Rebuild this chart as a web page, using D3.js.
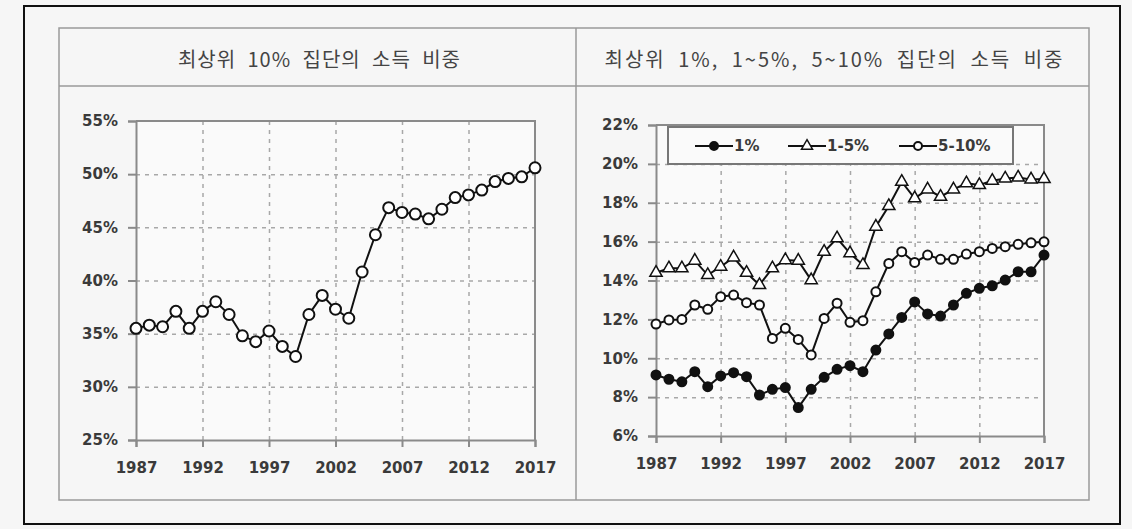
<!DOCTYPE html>
<html>
<head>
<meta charset="utf-8">
<script src="https://cdn.jsdelivr.net/npm/d3@7"></script>
<style>
  body { margin: 0; background: #f6f6f6; }
  .tick text { font-family: "DejaVu Sans", Tahoma, sans-serif; font-weight: bold; fill: #3a3a3a; }
</style>
</head>
<body>
<script>
// years shared by all series
let years = d3.range(1987, 2018);
let xTickYears = [1987, 1992, 1997, 2002, 2007, 2012, 2017];

// left panel: top 10% share (%)
let top10 = [35.5, 35.8, 35.65, 37.1, 35.5, 37.1, 38.0, 36.8, 34.8, 34.25,
    35.25, 33.8, 32.85, 36.8, 38.6, 37.3, 36.45, 40.8, 44.3, 46.85,
    46.4, 46.25, 45.8, 46.7, 47.8, 48.05, 48.5, 49.3, 49.6, 49.75, 50.6];
let leftYTicks = [25, 30, 35, 40, 45, 50, 55];

// right panel: top 1%, 1-5%, 5-10% shares (%)
let top1 = [9.14, 8.92, 8.79, 9.31, 8.54, 9.09, 9.26, 9.05, 8.11, 8.4,
    8.49, 7.46, 8.4, 9.02, 9.43, 9.62, 9.31, 10.42, 11.25, 12.1,
    12.9, 12.28, 12.17, 12.74, 13.34, 13.6, 13.73, 14.02, 14.45, 14.45, 15.31];
let top1to5 = [14.4, 14.63, 14.63, 15.02, 14.28, 14.71, 15.19, 14.4, 13.77, 14.63,
    15.05, 15.02, 14.02, 15.48, 16.17, 15.4, 14.8, 16.77, 17.83, 19.08,
    18.23, 18.69, 18.31, 18.69, 19.0, 18.91, 19.13, 19.25, 19.3, 19.2, 19.22];
let top5to10 = [11.76, 11.97, 12.0, 12.74, 12.52, 13.17, 13.25, 12.86, 12.74, 11.02,
    11.54, 10.97, 10.17, 12.05, 12.83, 11.85, 11.93, 13.42, 14.88, 15.48,
    14.93, 15.31, 15.09, 15.09, 15.36, 15.48, 15.65, 15.74, 15.86, 15.94, 15.99];
let rightYTicks = [6, 8, 10, 12, 14, 16, 18, 20, 22];
let legendKeys = ["1%", "1-5%", "5-10%"];
let legendMarks = ["dot", "tri", "circle"];

let titles = ["최상위 10% 집단의 소득 비중", "최상위 1%, 1~5%, 5~10% 집단의 소득 비중"];

let width = 1132, height = 529;
let svg = d3.select("body").append("svg")
    .attr("width", width)
    .attr("height", height);

// outer frame and table
svg.append("rect").attr("x", 24).attr("y", 6).attr("width", 1096).attr("height", 518)
    .attr("fill", "#f6f6f6").attr("stroke", "#111").attr("stroke-width", 2);
let table = svg.append("g").attr("stroke", "#9a9a9a").attr("stroke-width", 1.5).attr("fill", "none");
table.append("rect").attr("x", 59).attr("y", 28).attr("width", 1030).attr("height", 472);
table.append("line").attr("x1", 59).attr("x2", 1089).attr("y1", 86).attr("y2", 86);
table.append("line").attr("x1", 576).attr("x2", 576).attr("y1", 28).attr("y2", 500);

// cell bounds and wanted title width
let titleCells = [[59, 576, 283], [576, 1089, 460]];
let titleText = svg.selectAll("text.title")
    .data(titles)
    .join("text")
    .attr("class", "title")
    .attr("x", (d, i) => (titleCells[i][0] + titleCells[i][1]) / 2 + 2)
    .attr("y", 58)
    .attr("text-anchor", "middle")
    .attr("dominant-baseline", "central")
    .style("font-family", "'Noto Sans CJK KR', sans-serif")
    .style("font-size", "20px")
    .style("fill", "#444")
    .text(d => d);
// widen word gaps (capped), spread the rest over the letters
titleText.each(function (d, i) {
    let len = this.getComputedTextLength();
    let gaps = d.split(" ").length - 1;
    let extra = Math.max(0, titleCells[i][2] - len);
    let ws = Math.min(6, extra / gaps);
    let ls = (extra - ws * gaps) / d.length;
    d3.select(this).style("word-spacing", ws + "px").style("letter-spacing", ls + "px");
});

function drawPanel(p) {
    let x = d3.scaleLinear().domain([1987, 2017]).range([p.left, p.right]);
    let y = d3.scaleLinear().domain([p.yTicks[0], p.yTicks[p.yTicks.length - 1]])
        .range([p.bottom, p.top]);
    let g = svg.append("g");

    g.append("rect").attr("x", p.left).attr("y", p.top)
        .attr("width", p.right - p.left).attr("height", p.bottom - p.top)
        .attr("fill", "#fafafa");

    // grid
    g.append("g").attr("transform", "translate(" + p.left + ",0)")
        .call(d3.axisLeft(y).tickValues(p.yTicks.slice(1, -1)).tickSize(-(p.right - p.left)).tickFormat(""))
        .call(s => s.select(".domain").remove())
        .selectAll("line").attr("stroke", "#a8a8a8").attr("stroke-width", 1.5).attr("stroke-dasharray", "4,5");
    g.append("g").attr("transform", "translate(0," + p.bottom + ")")
        .call(d3.axisBottom(x).tickValues(xTickYears.slice(1, -1)).tickSize(-(p.bottom - p.top)).tickFormat(""))
        .call(s => s.select(".domain").remove())
        .selectAll("line").attr("stroke", "#a8a8a8").attr("stroke-width", 1.5).attr("stroke-dasharray", "4,5");

    // frame top/right
    g.append("path")
        .attr("d", "M" + p.left + "," + p.top + "H" + p.right + "V" + p.bottom)
        .attr("fill", "none").attr("stroke", "#8a8a8a").attr("stroke-width", 2);

    // axes
    let ya = g.append("g").attr("transform", "translate(" + p.left + ",0)")
        .call(d3.axisLeft(y).tickValues(p.yTicks).tickSize(8).tickPadding(10).tickFormat(d => d + "%"));
    let xa = g.append("g").attr("transform", "translate(0," + p.bottom + ")")
        .call(d3.axisBottom(x).tickValues(xTickYears).tickSize(7).tickPadding(15).tickFormat(d3.format("d")));
    [ya, xa].forEach(a => {
        a.select(".domain").attr("stroke", "#8a8a8a").attr("stroke-width", 2);
        a.selectAll(".tick line").attr("stroke", "#8a8a8a").attr("stroke-width", 2);
        a.selectAll(".tick text").style("font-size", "15px");
    });

    let line = d3.line().x((d, i) => x(years[i])).y(d => y(d));
    p.series.forEach(s => {
        g.append("path").attr("d", line(s.values))
            .attr("fill", "none").attr("stroke", "#111").attr("stroke-width", 2);
        drawMarks(g, s.values.map((v, i) => [x(years[i]), y(v)]), s.mark, s.r);
    });
    return { x: x, y: y, g: g };
}

function drawMarks(g, pts, mark, r) {
    if (mark === "tri") {
        g.selectAll(null).data(pts).join("path")
            .attr("transform", d => "translate(" + d[0] + "," + d[1] + ")")
            .attr("d", d3.symbol(d3.symbolTriangle, r * r * 2.6))
            .attr("fill", "#fff").attr("stroke", "#111").attr("stroke-width", 1.5);
    } else {
        g.selectAll(null).data(pts).join("circle")
            .attr("cx", d => d[0]).attr("cy", d => d[1]).attr("r", r)
            .attr("fill", mark === "dot" ? "#111" : "#fff")
            .attr("stroke", "#111").attr("stroke-width", 2);
    }
}

drawPanel({
    left: 136, right: 535, top: 121, bottom: 440, yTicks: leftYTicks,
    series: [{ values: top10, mark: "circle", r: 5.5 }]
});

let rp = drawPanel({
    left: 656, right: 1044, top: 125, bottom: 436, yTicks: rightYTicks,
    series: [
        { values: top1to5, mark: "tri", r: 5 },
        { values: top5to10, mark: "circle", r: 4.5 },
        { values: top1, mark: "dot", r: 4.5 }
    ]
});

// legend
let legend = rp.g.append("g").attr("class", "legend");
legend.append("rect").attr("x", 668).attr("y", 127).attr("width", 345).attr("height", 37)
    .attr("fill", "#fafafa").attr("stroke", "#777").attr("stroke-width", 2);
let legendX = [695, 788, 899];
legendKeys.forEach((k, i) => {
    let lx = legendX[i];
    legend.append("line").attr("x1", lx).attr("x2", lx + 38).attr("y1", 146).attr("y2", 146)
        .attr("stroke", "#111").attr("stroke-width", 2);
    drawMarks(legend, [[lx + 19, 146]], legendMarks[i], legendMarks[i] === "tri" ? 4.5 : 4);
    legend.append("text").attr("x", lx + 39).attr("y", 146)
        .attr("dominant-baseline", "central")
        .style("font-family", "'DejaVu Sans', Tahoma, sans-serif")
        .style("font-weight", "bold").style("font-size", "15px").style("fill", "#3a3a3a")
        .text(k);
});
</script>
</body>
</html>
